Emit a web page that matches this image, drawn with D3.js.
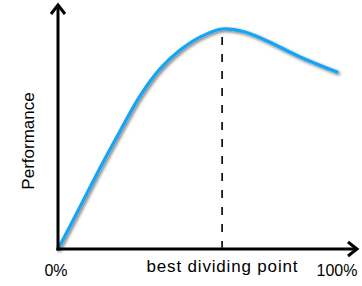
<!DOCTYPE html>
<html>
<head>
<meta charset="utf-8">
<script src="https://cdn.jsdelivr.net/npm/d3@7"></script>
<style>
  body { margin: 0; background: #fff; }
  text { font-family: "Liberation Sans", Arial, sans-serif; fill: #000; }
</style>
</head>
<body>
<div id="chart"></div>
<script>
// data (percent along x, performance 0..100)
const splitPct = [0, 7.3, 14, 20.7, 27.3, 34, 40.7, 47.3, 54.7, 62.3, 69.7, 80.7, 93]
const performance = [0, 17.1, 33.1, 48.2, 62.4, 73.5, 81.2, 86.5, 89.8, 88.6, 84.9, 78.4, 72.2]
const bestPoint = [54.7]
const tickLabels = ["0%", "100%"]
const xTitle = "best dividing point"
const yTitle = "Performance"

const width = 362, height = 286

const svg = d3.select("#chart").append("svg")
  .attr("width", width)
  .attr("height", height)

const defs = svg.append("defs")
const shadow = defs.append("filter").attr("id", "shadow")
  .attr("x", "-10%").attr("y", "-10%").attr("width", "130%").attr("height", "130%")
shadow.append("feDropShadow")
  .attr("dx", 1.5).attr("dy", 1.5).attr("stdDeviation", 1.6)
  .attr("flood-color", "#000").attr("flood-opacity", 0.55)

// scales
const xScale = d3.scaleLinear().domain([0, 100]).range([58, 358])
const yScale = d3.scaleLinear().domain([0, 100]).range([249, 4])

// dashed marker at best point
svg.selectAll("line.best")
  .data(bestPoint)
  .join("line")
  .attr("class", "best")
  .attr("x1", d => xScale(d)).attr("x2", d => xScale(d))
  .attr("y1", yScale(86.5)).attr("y2", yScale(0.5))
  .attr("stroke", "#000")
  .attr("stroke-width", 1.6)
  .attr("stroke-dasharray", "8,9")

// curve
const pts = splitPct.map((x, i) => [x, performance[i]])
const line = d3.line()
  .x(d => xScale(d[0]))
  .y(d => yScale(d[1]))
  .curve(d3.curveCatmullRom.alpha(0.5))

svg.append("path")
  .datum(pts)
  .attr("d", line)
  .attr("fill", "none")
  .attr("stroke", "#12a4f5")
  .attr("stroke-width", 3.2)
  .attr("stroke-linecap", "round")
  .attr("filter", "url(#shadow)")

// axes with arrowheads
const ax = svg.append("g")
  .attr("stroke", "#000")
  .attr("stroke-width", 3)
  .attr("fill", "none")
  .attr("stroke-linecap", "butt")

const x0 = xScale(0), y0 = yScale(0), xEnd = xScale(100), yEnd = yScale(100)
ax.append("path").attr("d", `M${x0},${y0 + 1.5}V${yEnd + 1}`)
ax.append("path").attr("d", `M${x0 - 1.5},${y0}H${xEnd - 1}`)
ax.append("path").attr("d", `M${x0 - 7},${yEnd + 10}L${x0},${yEnd + 1}L${x0 + 7},${yEnd + 10}`)
  .attr("stroke-linejoin", "miter")
ax.append("path").attr("d", `M${xEnd - 10},${y0 - 7}L${xEnd - 1},${y0}L${xEnd - 10},${y0 + 7}`)
  .attr("stroke-linejoin", "miter")

// labels
svg.append("text")
  .attr("x", x0 - 2).attr("y", 276)
  .attr("text-anchor", "middle")
  .style("font-size", "16px")
  .text(tickLabels[0])

svg.append("text")
  .attr("x", 337).attr("y", 276)
  .attr("text-anchor", "middle")
  .style("font-size", "16px")
  .text(tickLabels[1])

svg.append("text")
  .attr("x", 222).attr("y", 272)
  .attr("text-anchor", "middle")
  .style("font-size", "17px")
  .attr("textLength", 151)
  .text(xTitle)

svg.append("text")
  .attr("transform", `translate(34, 141) rotate(-90)`)
  .attr("text-anchor", "middle")
  .style("font-size", "17px")
  .text(yTitle)
</script>
</body>
</html>
